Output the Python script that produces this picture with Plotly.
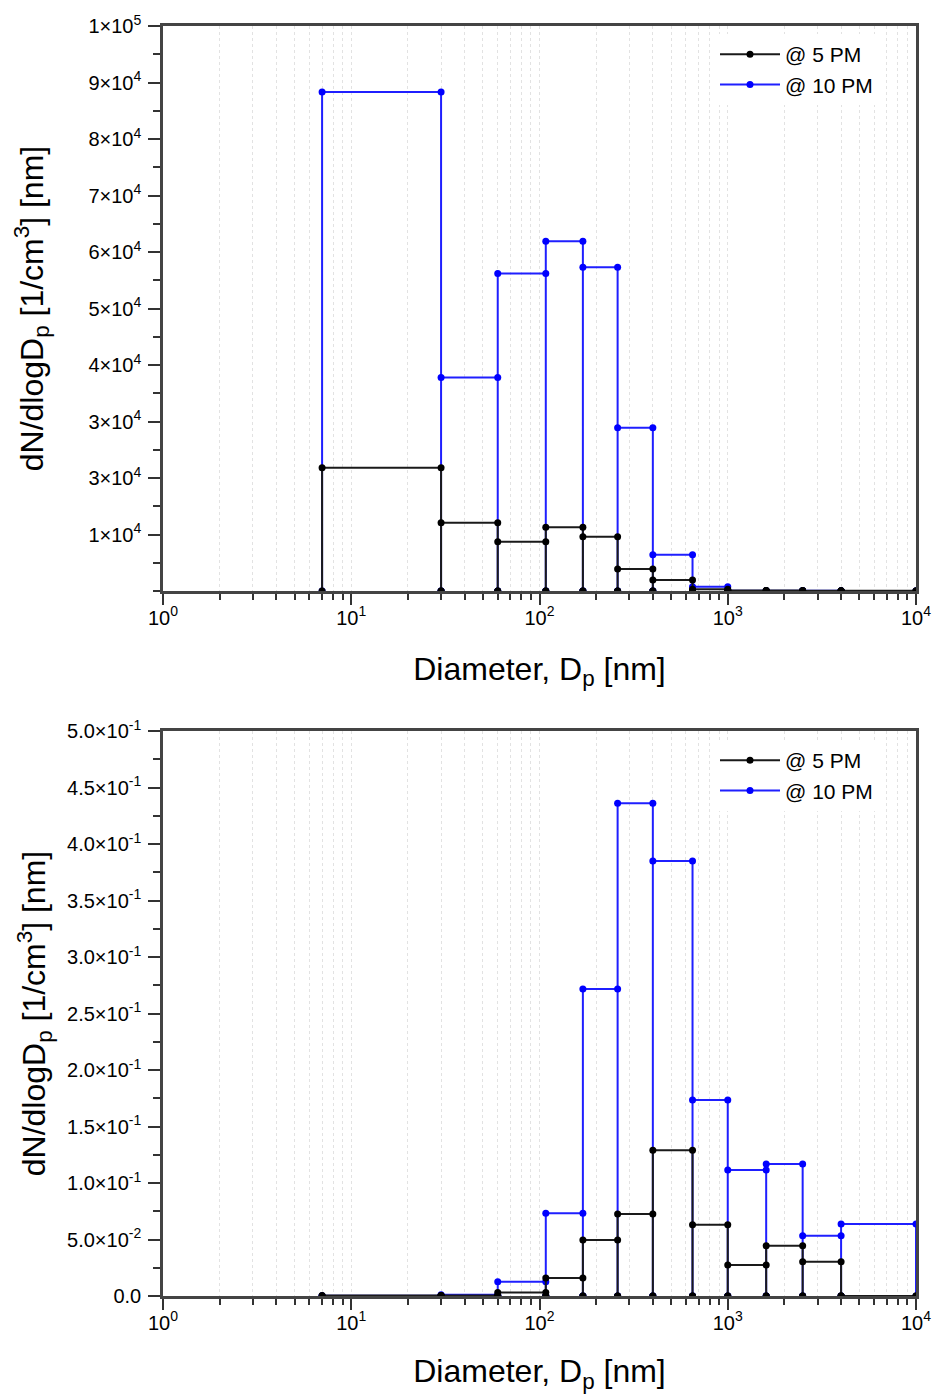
import plotly.graph_objects as go

# ---- data ----
bin_edges = [7, 30, 60, 108, 170, 260, 400, 650, 1000, 1600, 2500, 4000, 10000]

top_5pm = [21800, 12100, 8700, 11300, 9600, 3900, 1950, 300, 100, 80, 50, 30]
top_10pm = [88300, 37800, 56200, 61900, 57300, 28900, 6400, 760, 50, 40, 30, 20]

bot_5pm = [0.0005, 0.0004, 0.003, 0.016, 0.0496, 0.0726, 0.129, 0.063, 0.0274, 0.0445, 0.0304, 0.0]
bot_10pm = [0.0003, 0.0012, 0.0127, 0.0732, 0.2717, 0.436, 0.385, 0.1735, 0.1115, 0.1168, 0.0534, 0.0637]

top_ytickvals = [10000, 20000, 30000, 40000, 50000, 60000, 70000, 80000, 90000, 100000]
top_yticktext = ["1×10<sup>4</sup>", "3×10<sup>4</sup>", "3×10<sup>4</sup>", "4×10<sup>4</sup>",
                 "5×10<sup>4</sup>", "6×10<sup>4</sup>", "7×10<sup>4</sup>", "8×10<sup>4</sup>",
                 "9×10<sup>4</sup>", "1×10<sup>5</sup>"]
bot_ytickvals = [0, 0.05, 0.1, 0.15, 0.2, 0.25, 0.3, 0.35, 0.4, 0.45, 0.5]
bot_yticktext = ["0.0", "5.0×10<sup>-2</sup>", "1.0×10<sup>-1</sup>", "1.5×10<sup>-1</sup>",
                 "2.0×10<sup>-1</sup>", "2.5×10<sup>-1</sup>", "3.0×10<sup>-1</sup>",
                 "3.5×10<sup>-1</sup>", "4.0×10<sup>-1</sup>", "4.5×10<sup>-1</sup>",
                 "5.0×10<sup>-1</sup>"]
xtickvals = [1, 10, 100, 1000, 10000]
xticktext = ["10<sup>0</sup>", "10<sup>1</sup>", "10<sup>2</sup>", "10<sup>3</sup>", "10<sup>4</sup>"]

series_names = ["@ 5 PM", "@ 10 PM"]

# minor log ticks 2..9 in each decade
x_minor = [d * 10 ** n for n in range(4) for d in range(2, 10)]


def bin_path(edges, vals):
    xs, ys = [], []
    for i, v in enumerate(vals):
        left, right = edges[i], edges[i + 1]
        xs += [left, left, right, right]
        ys += [0, v, v, 0]
    return xs, ys


FONT = "Liberation Sans, Arial, sans-serif"
BLACK = "#1a1a1a"
BLUE = "#1f1fff"

fig = go.Figure()

panels = [
    ("x", "y", "legend", top_5pm, top_10pm),
    ("x2", "y2", "legend2", bot_5pm, bot_10pm),
]
for xa, ya, lg, v5, v10 in panels:
    xb, yb = bin_path(bin_edges, v10)
    fig.add_trace(go.Scatter(x=xb, y=yb, mode="lines+markers", name=series_names[1],
                             line=dict(color=BLUE, width=2),
                             marker=dict(color="#0000ff", size=7, symbol="circle"),
                             xaxis=xa, yaxis=ya, legend=lg, legendrank=2))
    xk, yk = bin_path(bin_edges, v5)
    fig.add_trace(go.Scatter(x=xk, y=yk, mode="lines+markers", name=series_names[0],
                             line=dict(color=BLACK, width=2),
                             marker=dict(color="#000000", size=7, symbol="circle"),
                             xaxis=xa, yaxis=ya, legend=lg, legendrank=1))

W, H = 934, 1394
xdom = [163 / W, 916 / W]
top_ydom = [1 - 591 / H, 1 - 26 / H]
bot_ydom = [1 - 1296 / H, 1 - 731 / H]

xaxis_common = dict(
    type="log", range=[0, 4], domain=xdom,
    tickmode="array", tickvals=xtickvals, ticktext=xticktext,
    ticks="outside", ticklen=11, tickwidth=2, tickcolor="#333",
    ticklabelstandoff=-4,
    showline=True, linecolor="#444", linewidth=2.5, mirror=True,
    showgrid=True, gridcolor="#e2e2e2", griddash="dot", gridwidth=1,
    minor=dict(tickmode="array", tickvals=x_minor, ticks="outside", ticklen=6, tickwidth=2,
               tickcolor="#333", showgrid=True, gridcolor="#e2e2e2", griddash="dot", gridwidth=1),
    tickfont=dict(family=FONT, size=20, color="black"),
    title=dict(text="Diameter, D<sub>p</sub> [nm]", font=dict(family=FONT, size=32, color="black"),
               standoff=30),
    zeroline=False, automargin=False,
)
yaxis_common = dict(
    ticks="outside", ticklen=12, tickwidth=2, tickcolor="#333",
    ticklabelstandoff=3,
    showline=True, linecolor="#444", linewidth=2.5, mirror=True,
    showgrid=False, zeroline=False,
    tickfont=dict(family=FONT, size=20, color="black"),
    title=dict(text="dN/dlogD<sub>p</sub> [1/cm<sup>3</sup>] [nm]",
               font=dict(family=FONT, size=32, color="black")),
    tickmode="array", automargin=False,
)

fig.update_layout(
    width=W, height=H,
    margin=dict(l=0, r=0, t=0, b=0),
    paper_bgcolor="white", plot_bgcolor="white",
    font=dict(family=FONT, color="black"),
    xaxis=dict(xaxis_common, anchor="y"),
    xaxis2=dict(xaxis_common, anchor="y2"),
    yaxis=dict(yaxis_common, domain=top_ydom, range=[0, 100000], anchor="x",
               tickvals=top_ytickvals, ticktext=top_yticktext,
               minor=dict(ticks="outside", ticklen=7, tickwidth=2, tickcolor="#333", dtick=5000),
               title=dict(yaxis_common["title"], standoff=36)),
    yaxis2=dict(yaxis_common, domain=bot_ydom, range=[0, 0.5], anchor="x2",
                tickvals=bot_ytickvals, ticktext=bot_yticktext,
                minor=dict(ticks="outside", ticklen=7, tickwidth=2, tickcolor="#333", dtick=0.025),
                title=dict(yaxis_common["title"], standoff=12)),
    legend=dict(x=715 / W, y=1 - 34 / H, xanchor="left", yanchor="top",
                bgcolor="white", borderwidth=0, itemwidth=60,
                font=dict(family=FONT, size=21, color="black")),
    legend2=dict(x=715 / W, y=1 - 740 / H, xanchor="left", yanchor="top",
                 bgcolor="white", borderwidth=0, itemwidth=60,
                 font=dict(family=FONT, size=21, color="black")),
)

fig.write_html("out.html")
